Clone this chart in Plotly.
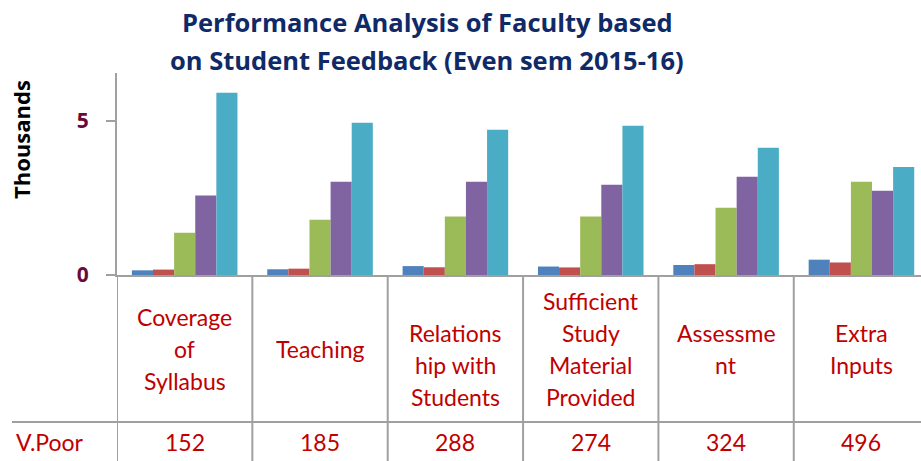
import plotly.graph_objects as go

categories = ["Coverage<br>of<br>Syllabus", "Teaching", "Relations<br>hip with<br>Students",
              "Sufficient<br>Study<br>Material<br>Provided", "Assessme<br>nt", "Extra<br>Inputs"]
series_names = ["V.Poor", "Poor", "Average", "Good", "Excellent"]
v_poor = [152, 185, 288, 274, 324, 496]
poor = [175, 205, 250, 245, 350, 405]
average = [1370, 1790, 1890, 1890, 2180, 3020]
good = [2570, 3020, 3020, 2920, 3180, 2730]
excellent = [5900, 4930, 4700, 4830, 4120, 3500]
ytick_vals = [0, 5000]
ytick_text = ["0", "5"]
title_lines = ["Performance Analysis of Faculty based", "on Student Feedback (Even sem 2015-16)"]

series_values = [v_poor, poor, average, good, excellent]
colors = ["#4F81BD", "#C0504D", "#9BBB59", "#8064A2", "#4BACC6"]

W, H = 921, 461
L, R, T, B = 117, 0, 73, 186
PW, PH = W - L - R, H - T - B
FONT = "Lato"
RED = "#C00000"
GRAY = "#A0A0A0"

def py(p):
    return (H - B - p) / PH

def px(p):
    return (p - L) / PW

xs = list(range(len(categories)))
fig = go.Figure()
for name, vals, c in zip(series_names, series_values, colors):
    fig.add_trace(go.Bar(x=xs, y=vals, name=name, marker=dict(color=c, line=dict(width=0))))

annotations = []
# title
for k, line in enumerate(title_lines):
    annotations.append(dict(text="<b>%s</b>" % line, xref="paper", yref="paper", x=px(427), y=py(22 + 38 * k),
                            xanchor="center", yanchor="middle", showarrow=False,
                            font=dict(family="Open Sans", size=25.5, color="#0F2A66")))
# y title
annotations.append(dict(text="<b>Thousands</b>", xref="paper", yref="paper", x=px(21), y=py(140),
                        textangle=-90, xanchor="center", yanchor="middle", showarrow=False,
                        font=dict(family="Open Sans", size=22, color="#000000")))
# category labels
for i, cat in enumerate(categories):
    lines = cat.split("<br>")
    n = len(lines)
    center = 365 if i == 2 else 349
    for k, line in enumerate(lines):
        annotations.append(dict(text=line, xref="x", yref="paper", x=i, y=py(center + (k - (n - 1) / 2) * 32),
                                xanchor="center", yanchor="middle", showarrow=False,
                                font=dict(family=FONT, size=23, color=RED)))
# data table row
annotations.append(dict(text=series_names[0], xref="paper", yref="paper", x=px(14), y=py(442),
                        xanchor="left", yanchor="middle", showarrow=False,
                        font=dict(family=FONT, size=23, color=RED)))
for i, v in enumerate(v_poor):
    annotations.append(dict(text=str(v), xref="x", yref="paper", x=i, y=py(442),
                            xanchor="center", yanchor="middle", showarrow=False,
                            font=dict(family=FONT, size=23, color=RED)))

shapes = []
for i in range(len(categories)):
    shapes.append(dict(type="line", xref="x", yref="paper", x0=i - 0.5, x1=i - 0.5, y0=0, y1=py(H + 2),
                       line=dict(color=GRAY, width=2)))
shapes.append(dict(type="line", xref="paper", yref="paper", x0=px(12), x1=1.01, y0=py(422), y1=py(422),
                   line=dict(color=GRAY, width=2)))

fig.update_layout(
    width=W, height=H, margin=dict(l=L, r=R, t=T, b=B),
    plot_bgcolor="white", paper_bgcolor="white",
    showlegend=False, bargap=0.22, bargroupgap=0,
    annotations=annotations, shapes=shapes,
    xaxis=dict(range=[-0.5, len(categories) - 0.56], showticklabels=False, showgrid=False, zeroline=False,
               showline=True, linecolor=GRAY, linewidth=2, ticks=""),
    yaxis=dict(range=[0, 6540], tickvals=ytick_vals, ticktext=ytick_text, showgrid=False, zeroline=False,
               showline=True, linecolor=GRAY, linewidth=2, ticks="outside", ticklen=9, tickcolor=GRAY,
               tickwidth=2, ticklabelstandoff=13,
               tickfont=dict(family="Open Sans", size=21, color="#6B0A3A", weight="bold")),
)
fig.write_html("out.html", config={"displayModeBar": False},
               post_script="document.body.style.margin='0';document.body.style.padding='0';")
